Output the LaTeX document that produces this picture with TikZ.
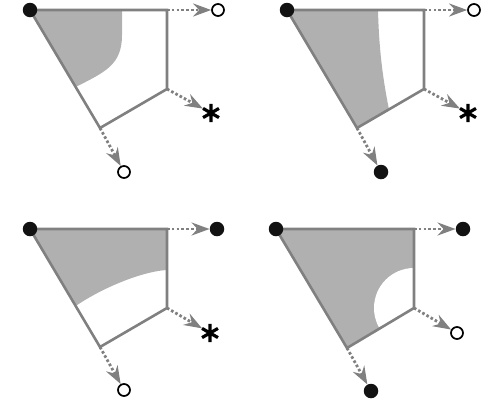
\documentclass[tikz,border=0pt]{standalone}
\usetikzlibrary{arrows.meta}
\definecolor{edgegray}{gray}{0.5}
\definecolor{fillgray}{gray}{0.69}
\definecolor{dotblack}{gray}{0.07}
\begin{document}
\begin{tikzpicture}[x=1pt,y=-1pt,
  edge/.style={draw=edgegray, line width=2.6pt, line join=miter},
  conn/.style={draw=edgegray, line width=2.8pt, dash pattern=on 2.6pt off 2.2pt,
    -{Stealth[length=18pt,width=13pt,inset=6pt,fill=edgegray]}},
  opendot/.style={circle, draw=black, line width=1.7pt, fill=white, minimum size=12pt, inner sep=0pt},
  blackdot/.style={circle, fill=dotblack, minimum size=14.5pt, inner sep=0pt},
  astnode/.style={circle, minimum size=18pt, inner sep=0pt},
  astline/.style={draw=black, line width=3.2pt}
]
\useasboundingbox (0,0) rectangle (496,400);

% ---------- panel 1 ----------
\begin{scope}[shift={(30,10)}]
  \coordinate (A1) at (0,0); \coordinate (B1) at (137,0);
  \coordinate (C1) at (137,79); \coordinate (D1) at (70,118);
  \fill[fillgray] (A1) -- (92,0) -- (92,25) .. controls (92,55) and (75,62) .. (45.7,77) -- cycle;
  \draw[edge] (A1) -- (B1) -- (C1) -- (D1) -- cycle;
  \node[opendot] (t1) at (188,0) {};
  \node[astnode] (r1) at (181,103) {};
  \node[opendot] (b1) at (94,162) {};
  \draw[conn] (B1) -- (t1);
  \draw[conn] (C1) -- (r1);
  \draw[conn] (D1) -- (b1);
  \draw[astline] (r1.90) -- (r1.270) (r1.30) -- (r1.210) (r1.150) -- (r1.330);
  \node[blackdot] (a1) at (A1) {};
\end{scope}

% ---------- panel 2 ----------
\begin{scope}[shift={(287,10)}]
  \coordinate (A2) at (0,0); \coordinate (B2) at (137,0);
  \coordinate (C2) at (137,79); \coordinate (D2) at (70,118);
  \fill[fillgray] (A2) -- (91,0) .. controls (92,40) and (96,70) .. (102,99.4) -- (D2) -- cycle;
  \draw[edge] (A2) -- (B2) -- (C2) -- (D2) -- cycle;
  \node[opendot] (t2) at (187,0) {};
  \node[astnode] (r2) at (181,103) {};
  \node[blackdot] (b2) at (94,162) {};
  \draw[conn] (B2) -- (t2);
  \draw[conn] (C2) -- (r2);
  \draw[conn] (D2) -- (b2);
  \draw[astline] (r2.90) -- (r2.270) (r2.30) -- (r2.210) (r2.150) -- (r2.330);
  \node[blackdot] (a2) at (A2) {};
\end{scope}

% ---------- panel 3 ----------
\begin{scope}[shift={(30,229)}]
  \coordinate (A3) at (0,0); \coordinate (B3) at (137,0);
  \coordinate (C3) at (137,79); \coordinate (D3) at (70,118);
  \fill[fillgray] (A3) -- (B3) -- (137,41) .. controls (115,42) and (75,57) .. (45.7,77) -- cycle;
  \draw[edge] (A3) -- (B3) -- (C3) -- (D3) -- cycle;
  \node[blackdot] (t3) at (187,0) {};
  \node[astnode] (r3) at (180,104) {};
  \node[opendot] (b3) at (94,161) {};
  \draw[conn] (B3) -- (t3);
  \draw[conn] (C3) -- (r3);
  \draw[conn] (D3) -- (b3);
  \draw[astline] (r3.90) -- (r3.270) (r3.30) -- (r3.210) (r3.150) -- (r3.330);
  \node[blackdot] (a3) at (A3) {};
\end{scope}

% ---------- panel 4 ----------
\begin{scope}[shift={(276,229)}]
  \coordinate (A4) at (0,0); \coordinate (B4) at (138,0);
  \coordinate (C4) at (138,79); \coordinate (D4) at (71,119);
  \fill[fillgray] (A4) -- (B4) -- (C4) -- (D4) -- cycle;
  \begin{scope}
    \clip (A4) -- (B4) -- (C4) -- (D4) -- cycle;
    \fill[white] (C4) circle (40);
  \end{scope}
  \draw[edge] (A4) -- (B4) -- (C4) -- (D4) -- cycle;
  \node[blackdot] (t4) at (187,0) {};
  \node[opendot] (r4) at (181,104) {};
  \node[blackdot] (b4) at (95,162) {};
  \draw[conn] (B4) -- (t4);
  \draw[conn] (C4) -- (r4);
  \draw[conn] (D4) -- (b4);
  \node[blackdot] (a4) at (A4) {};
\end{scope}
\end{tikzpicture}
\end{document}
